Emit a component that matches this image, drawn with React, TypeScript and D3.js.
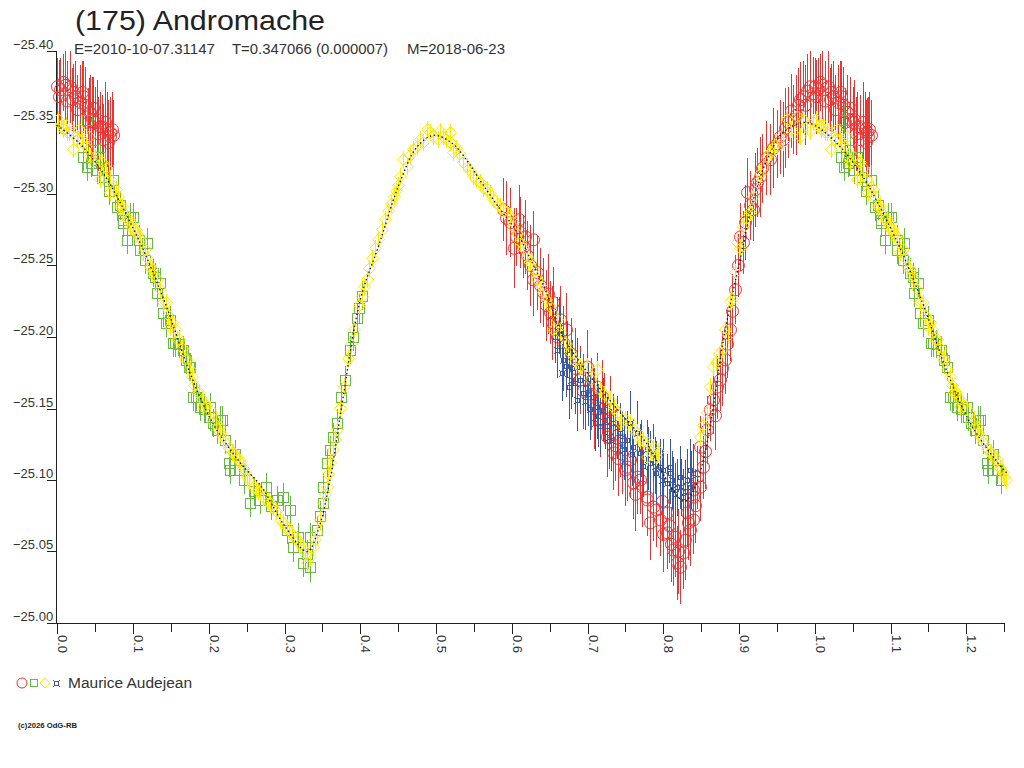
import React from 'react';
import * as d3 from 'd3';

// ---- data (phase, reduced magnitude, error) ----
const redPoints: [number, number, number][] = [
  [0.000, -25.375, 0.020], [0.004, -25.373, 0.022], [0.007, -25.378, 0.020], [0.010, -25.376, 0.024],
  [0.017, -25.375, 0.025], [0.020, -25.366, 0.022], [0.021, -25.371, 0.020], [0.026, -25.359, 0.024],
  [0.030, -25.364, 0.026], [0.033, -25.371, 0.022], [0.034, -25.368, 0.025], [0.042, -25.357, 0.024],
  [0.043, -25.357, 0.026], [0.047, -25.360, 0.022], [0.050, -25.350, 0.025], [0.052, -25.352, 0.028],
  [0.056, -25.347, 0.024], [0.059, -25.347, 0.022], [0.060, -25.338, 0.025], [0.066, -25.345, 0.026],
  [0.069, -25.343, 0.024], [0.070, -25.340, 0.028], [0.074, -25.341, 0.025],
  [0.002, -25.368, 0.026], [0.013, -25.365, 0.028], [0.024, -25.368, 0.025], [0.037, -25.362, 0.027],
  [0.040, -25.350, 0.024], [0.046, -25.352, 0.030], [0.054, -25.342, 0.026], [0.063, -25.350, 0.028],
  [0.067, -25.336, 0.030], [0.072, -25.345, 0.026],
  [0.588, -25.289, 0.022], [0.598, -25.280, 0.024], [0.606, -25.270, 0.020], [0.611, -25.273, 0.025],
  [0.615, -25.263, 0.022], [0.620, -25.257, 0.024], [0.628, -25.268, 0.020], [0.628, -25.240, 0.025],
  [0.633, -25.245, 0.026], [0.641, -25.231, 0.024], [0.645, -25.222, 0.025], [0.650, -25.217, 0.022],
  [0.655, -25.224, 0.025], [0.664, -25.212, 0.024], [0.668, -25.196, 0.026], [0.678, -25.188, 0.025],
  [0.690, -25.170, 0.024], [0.699, -25.179, 0.026], [0.705, -25.160, 0.025], [0.712, -25.165, 0.024],
  [0.716, -25.142, 0.026], [0.722, -25.150, 0.025], [0.730, -25.149, 0.024], [0.734, -25.119, 0.026],
  [0.736, -25.124, 0.025], [0.743, -25.128, 0.026], [0.750, -25.107, 0.025], [0.752, -25.109, 0.024],
  [0.756, -25.114, 0.026], [0.760, -25.098, 0.025], [0.765, -25.102, 0.026], [0.769, -25.100, 0.024],
  [0.778, -25.088, 0.026], [0.778, -25.086, 0.025], [0.787, -25.081, 0.024], [0.791, -25.079, 0.026],
  [0.796, -25.072, 0.025], [0.800, -25.062, 0.026], [0.805, -25.063, 0.025], [0.805, -25.077, 0.024],
  [0.810, -25.055, 0.026], [0.813, -25.051, 0.025], [0.818, -25.042, 0.026], [0.822, -25.039, 0.026],
  [0.826, -25.049, 0.025], [0.831, -25.077, 0.024], [0.835, -25.065, 0.025], [0.839, -25.072, 0.024],
  [0.839, -25.088, 0.022], [0.839, -25.093, 0.024], [0.844, -25.102, 0.022], [0.848, -25.095, 0.024],
  [0.848, -25.123, 0.022], [0.852, -25.109, 0.022], [0.858, -25.135, 0.024], [0.862, -25.149, 0.022],
  [0.866, -25.156, 0.024], [0.871, -25.165, 0.022], [0.875, -25.170, 0.022], [0.881, -25.184, 0.024],
  [0.888, -25.205, 0.022], [0.894, -25.233, 0.024], [0.898, -25.250, 0.022], [0.901, -25.270, 0.024],
  [0.905, -25.266, 0.022], [0.910, -25.301, 0.024], [0.918, -25.289, 0.022], [0.924, -25.308, 0.024],
  [0.930, -25.318, 0.024], [0.941, -25.324, 0.025], [0.950, -25.335, 0.024], [0.958, -25.338, 0.026],
  [0.965, -25.350, 0.025], [0.971, -25.352, 0.024], [0.978, -25.362, 0.026], [0.984, -25.368, 0.025],
  [0.990, -25.372, 0.026], [0.994, -25.375, 0.025],
  [0.592, -25.283, 0.026], [0.603, -25.262, 0.028], [0.609, -25.282, 0.024], [0.618, -25.270, 0.026],
  [0.624, -25.250, 0.028], [0.637, -25.236, 0.026], [0.648, -25.230, 0.028], [0.653, -25.210, 0.026],
  [0.660, -25.200, 0.028], [0.672, -25.205, 0.026], [0.684, -25.178, 0.028], [0.694, -25.162, 0.026],
  [0.708, -25.150, 0.028], [0.719, -25.158, 0.026], [0.726, -25.130, 0.028], [0.740, -25.115, 0.026],
  [0.746, -25.118, 0.028], [0.763, -25.090, 0.026], [0.772, -25.095, 0.028], [0.783, -25.070, 0.026],
  [0.798, -25.085, 0.028], [0.808, -25.068, 0.026], [0.815, -25.060, 0.028], [0.820, -25.050, 0.030],
  [0.828, -25.058, 0.028], [0.833, -25.070, 0.026], [0.842, -25.082, 0.026],
  [0.855, -25.120, 0.026], [0.868, -25.145, 0.024], [0.878, -25.178, 0.026], [0.884, -25.195, 0.024],
  [0.891, -25.218, 0.026], [0.908, -25.280, 0.026], [0.914, -25.292, 0.024], [0.921, -25.303, 0.026],
  [0.927, -25.312, 0.028], [0.935, -25.325, 0.026], [0.945, -25.332, 0.028], [0.954, -25.340, 0.026],
  [0.961, -25.346, 0.028], [0.968, -25.358, 0.026], [0.975, -25.355, 0.028], [0.981, -25.366, 0.026],
  [0.987, -25.362, 0.028], [0.997, -25.370, 0.026],
];

const greenPoints: [number, number][] = [
  [0.034, -25.326], [0.039, -25.352], [0.039, -25.319], [0.047, -25.331], [0.052, -25.317], [0.056, -25.326],
  [0.074, -25.310], [0.079, -25.291], [0.087, -25.282], [0.087, -25.280], [0.092, -25.268], [0.096, -25.284],
  [0.100, -25.284], [0.108, -25.268], [0.109, -25.261], [0.116, -25.254], [0.118, -25.266], [0.126, -25.245],
  [0.129, -25.242], [0.131, -25.231], [0.136, -25.238], [0.139, -25.217], [0.143, -25.210], [0.149, -25.212],
  [0.153, -25.196], [0.156, -25.196], [0.166, -25.191], [0.174, -25.179], [0.175, -25.179], [0.179, -25.158],
  [0.183, -25.158], [0.188, -25.151], [0.201, -25.151], [0.202, -25.144], [0.211, -25.135], [0.215, -25.142],
  [0.218, -25.142], [0.227, -25.112], [0.228, -25.107], [0.235, -25.118], [0.240, -25.107], [0.254, -25.084],
  [0.268, -25.086], [0.276, -25.095], [0.290, -25.086], [0.298, -25.088], [0.303, -25.065], [0.307, -25.079],
  [0.311, -25.053], [0.325, -25.042], [0.334, -25.039], [0.334, -25.060], [0.343, -25.065], [0.351, -25.084],
  [0.351, -25.095], [0.356, -25.112], [0.360, -25.121], [0.364, -25.130], [0.369, -25.140], [0.380, -25.170],
  [0.386, -25.191], [0.395, -25.213], [0.402, -25.229],
  [0.375, -25.158], [0.390, -25.200], [0.398, -25.220], [0.044, -25.322], [0.062, -25.312], [0.068, -25.302],
  [0.083, -25.292], [0.160, -25.195], [0.170, -25.184], [0.193, -25.150], [0.206, -25.140], [0.222, -25.128],
  [0.246, -25.100], [0.260, -25.092], [0.282, -25.082], [0.318, -25.060], [0.329, -25.048], [0.347, -25.075],
];

const yellowPoints: [number, number][] = [
  [0.001, -25.352], [0.005, -25.348], [0.008, -25.345], [0.013, -25.343], [0.016, -25.343], [0.021, -25.343],
  [0.021, -25.331], [0.026, -25.338], [0.029, -25.345], [0.033, -25.338], [0.034, -25.336], [0.042, -25.340],
  [0.043, -25.326], [0.047, -25.322], [0.050, -25.326], [0.056, -25.310], [0.059, -25.322], [0.060, -25.312],
  [0.069, -25.310], [0.070, -25.301], [0.074, -25.305], [0.077, -25.303], [0.083, -25.291], [0.086, -25.291],
  [0.087, -25.287], [0.092, -25.282], [0.095, -25.282], [0.096, -25.277], [0.100, -25.275], [0.103, -25.275],
  [0.108, -25.270], [0.109, -25.268], [0.113, -25.259], [0.116, -25.261], [0.122, -25.249], [0.125, -25.247],
  [0.131, -25.240], [0.135, -25.233], [0.139, -25.224], [0.143, -25.224], [0.149, -25.207], [0.152, -25.210],
  [0.158, -25.198], [0.161, -25.198], [0.169, -25.184], [0.171, -25.184], [0.175, -25.177], [0.178, -25.172],
  [0.184, -25.161], [0.187, -25.161], [0.191, -25.156], [0.192, -25.151], [0.201, -25.149], [0.206, -25.140],
  [0.214, -25.137], [0.215, -25.133], [0.222, -25.126], [0.231, -25.119], [0.232, -25.119], [0.240, -25.114],
  [0.241, -25.112], [0.248, -25.105], [0.250, -25.102], [0.253, -25.100], [0.258, -25.095], [0.265, -25.092],
  [0.272, -25.088], [0.278, -25.085], [0.285, -25.081], [0.294, -25.072], [0.303, -25.067], [0.310, -25.062],
  [0.316, -25.058], [0.324, -25.051], [0.330, -25.042], [0.334, -25.046], [0.338, -25.053], [0.343, -25.063],
  [0.347, -25.072], [0.351, -25.084], [0.356, -25.095], [0.360, -25.112], [0.364, -25.121], [0.369, -25.135],
  [0.392, -25.205], [0.405, -25.235], [0.412, -25.248], [0.420, -25.262], [0.428, -25.275], [0.436, -25.288],
  [0.444, -25.298], [0.450, -25.306], [0.457, -25.324], [0.462, -25.319], [0.470, -25.331], [0.475, -25.333],
  [0.483, -25.336], [0.488, -25.345], [0.496, -25.340], [0.502, -25.338], [0.509, -25.340], [0.518, -25.343],
  [0.518, -25.336], [0.522, -25.329], [0.530, -25.328], [0.541, -25.319], [0.549, -25.312], [0.558, -25.308],
  [0.567, -25.303], [0.575, -25.296], [0.585, -25.291], [0.593, -25.287], [0.598, -25.284], [0.602, -25.280],
  [0.602, -25.277], [0.611, -25.266], [0.620, -25.256], [0.628, -25.247], [0.633, -25.240], [0.641, -25.231],
  [0.650, -25.221], [0.655, -25.205], [0.660, -25.212], [0.664, -25.203], [0.677, -25.189], [0.690, -25.179],
  [0.699, -25.179], [0.712, -25.177], [0.716, -25.163], [0.730, -25.156], [0.739, -25.147], [0.743, -25.140],
  [0.756, -25.140], [0.765, -25.133], [0.769, -25.128], [0.778, -25.126], [0.778, -25.116], [0.786, -25.123],
  [0.793, -25.120], [0.848, -25.130], [0.858, -25.147], [0.861, -25.165], [0.866, -25.179], [0.870, -25.182],
  [0.877, -25.191], [0.885, -25.201], [0.891, -25.226], [0.897, -25.266], [0.905, -25.277], [0.914, -25.287],
  [0.924, -25.308], [0.932, -25.319], [0.941, -25.329], [0.950, -25.333], [0.958, -25.336], [0.963, -25.352],
  [0.976, -25.354], [0.980, -25.340], [0.990, -25.347], [0.998, -25.350],
  [0.373, -25.150], [0.378, -25.165], [0.384, -25.185], [0.388, -25.195], [0.398, -25.222], [0.402, -25.228],
  [0.409, -25.240], [0.416, -25.255], [0.424, -25.268], [0.432, -25.282], [0.440, -25.293], [0.447, -25.302],
  [0.453, -25.312], [0.466, -25.327], [0.479, -25.338], [0.492, -25.343], [0.505, -25.344], [0.513, -25.338],
  [0.526, -25.332], [0.535, -25.322], [0.545, -25.316], [0.553, -25.310], [0.562, -25.304], [0.571, -25.300],
  [0.580, -25.293], [0.589, -25.289], [0.607, -25.272], [0.615, -25.262], [0.624, -25.252], [0.637, -25.236],
  [0.645, -25.226], [0.671, -25.195], [0.684, -25.183], [0.705, -25.170], [0.722, -25.160], [0.735, -25.150],
  [0.750, -25.142], [0.760, -25.135], [0.773, -25.127], [0.782, -25.120], [0.790, -25.116], [0.852, -25.138],
  [0.873, -25.188], [0.881, -25.205], [0.888, -25.225], [0.894, -25.245], [0.901, -25.262], [0.909, -25.283],
  [0.918, -25.298], [0.928, -25.314], [0.937, -25.326], [0.946, -25.333], [0.955, -25.340], [0.968, -25.345],
  [0.985, -25.352], [0.993, -25.344], [0.011, -25.348], [0.038, -25.333], [0.064, -25.318], [0.080, -25.298],
  [0.105, -25.272], [0.119, -25.255], [0.128, -25.243], [0.146, -25.215], [0.155, -25.205], [0.165, -25.192],
  [0.181, -25.166], [0.196, -25.152], [0.210, -25.142], [0.219, -25.130], [0.227, -25.122], [0.236, -25.116],
  [0.245, -25.108], [0.262, -25.094], [0.268, -25.091], [0.281, -25.083], [0.289, -25.078], [0.298, -25.070],
  [0.306, -25.064], [0.320, -25.055], [0.327, -25.048], [0.340, -25.058], [0.353, -25.090], [0.358, -25.104],
  [0.366, -25.128],
];

const bluePoints: [number, number, number][] = [
  [0.657, -25.200, 0.018], [0.660, -25.191, 0.020], [0.664, -25.203, 0.018], [0.666, -25.175, 0.020],
  [0.668, -25.184, 0.022], [0.673, -25.191, 0.020], [0.676, -25.165, 0.022], [0.680, -25.178, 0.020],
  [0.686, -25.179, 0.020], [0.686, -25.156, 0.022], [0.690, -25.170, 0.020], [0.694, -25.161, 0.022],
  [0.699, -25.168, 0.020], [0.703, -25.150, 0.022], [0.707, -25.158, 0.020], [0.712, -25.151, 0.022],
  [0.716, -25.138, 0.020], [0.720, -25.149, 0.022], [0.723, -25.142, 0.020], [0.728, -25.130, 0.022],
  [0.734, -25.140, 0.020], [0.739, -25.137, 0.022], [0.743, -25.133, 0.020], [0.748, -25.122, 0.022],
  [0.752, -25.128, 0.020], [0.756, -25.140, 0.022], [0.760, -25.123, 0.020], [0.765, -25.133, 0.022],
  [0.769, -25.119, 0.020], [0.773, -25.110, 0.022], [0.778, -25.122, 0.020], [0.782, -25.112, 0.022],
  [0.786, -25.119, 0.020], [0.791, -25.105, 0.022], [0.796, -25.109, 0.020], [0.800, -25.107, 0.022],
  [0.805, -25.098, 0.020], [0.809, -25.105, 0.022], [0.809, -25.109, 0.020], [0.813, -25.094, 0.022],
  [0.818, -25.095, 0.020], [0.822, -25.102, 0.022], [0.826, -25.088, 0.020], [0.831, -25.100, 0.022],
  [0.835, -25.095, 0.020], [0.835, -25.107, 0.022], [0.839, -25.105, 0.020],
  [0.662, -25.208, 0.020], [0.671, -25.180, 0.022], [0.678, -25.170, 0.020], [0.683, -25.168, 0.022],
  [0.697, -25.155, 0.020], [0.701, -25.160, 0.022], [0.710, -25.140, 0.020], [0.714, -25.145, 0.022],
  [0.726, -25.138, 0.020], [0.731, -25.128, 0.022], [0.745, -25.128, 0.020], [0.758, -25.118, 0.022],
  [0.771, -25.122, 0.020], [0.780, -25.115, 0.022], [0.789, -25.110, 0.020], [0.798, -25.100, 0.022],
  [0.811, -25.100, 0.020], [0.816, -25.090, 0.022], [0.824, -25.095, 0.020], [0.829, -25.092, 0.022],
  [0.837, -25.100, 0.020],
];

const greenErr = 0.010;
const yellowErr = 0.006;

const fitCurve: [number, number][] = [
  [0.000, -25.348], [0.030, -25.335], [0.060, -25.315], [0.083, -25.294], [0.116, -25.258], [0.145, -25.220],
  [0.175, -25.175], [0.205, -25.140], [0.240, -25.113], [0.255, -25.104], [0.270, -25.095], [0.300, -25.068],
  [0.330, -25.050], [0.345, -25.066], [0.360, -25.100], [0.375, -25.150], [0.400, -25.226], [0.425, -25.265],
  [0.450, -25.305], [0.475, -25.333], [0.497, -25.341], [0.520, -25.336], [0.540, -25.324], [0.560, -25.308],
  [0.585, -25.289], [0.605, -25.275], [0.625, -25.254], [0.645, -25.232], [0.665, -25.203], [0.700, -25.175],
  [0.740, -25.149], [0.780, -25.124], [0.810, -25.095], [0.828, -25.085], [0.840, -25.093], [0.850, -25.108],
  [0.862, -25.138], [0.880, -25.200], [0.905, -25.263], [0.920, -25.298], [0.937, -25.324], [0.958, -25.343],
  [0.985, -25.350], [1.000, -25.348],
];

const xMajorTicks = [0, 0.1, 0.2, 0.3, 0.4, 0.5, 0.6, 0.7, 0.8, 0.9, 1.0, 1.1, 1.2];
const xMinorTicks = [0.05, 0.15, 0.25, 0.35, 0.45, 0.55, 0.65, 0.75, 0.85, 0.95, 1.05, 1.15, 1.25];
const yTicks = [-25.40, -25.35, -25.30, -25.25, -25.20, -25.15, -25.10, -25.05, -25.00];

const titleText = '(175) Andromache';
const infoE = 'E=2010-10-07.31147';
const infoT = 'T=0.347066 (0.000007)';
const infoM = 'M=2018-06-23';
const observer = 'Maurice Audejean';
const copyright = '(c)2026 OdG-RB';

const RED = '#ee3333';
const GREEN = '#66bb44';
const YELLOW = '#ffe800';
const BLUE = '#3b57a8';
const FONT = '"Liberation Sans", Arial, sans-serif';

const PHASE_MAX = 1.2535;

function withRepeat<T extends number[]>(pts: T[]): T[] {
  const out: T[] = [];
  pts.forEach((p) => {
    out.push(p);
    if (p[0] + 1 <= PHASE_MAX) {
      const q = [...p] as unknown as T;
      q[0] = p[0] + 1;
      out.push(q);
    }
  });
  return out;
}

export default function App() {
  const x = d3.scaleLinear().domain([0, 1.25]).range([57.3, 1004.2]);
  const y = d3.scaleLinear().domain([-25.4, -25.0]).range([51, 623]);
  const cx = (p: number) => Math.round(x(p)) + 0.5;
  const cy = (m: number) => y(m);

  const red = withRepeat(redPoints);
  const green = withRepeat(greenPoints);
  const yellow = withRepeat(yellowPoints);
  const blue = withRepeat(bluePoints);

  const fitAll: [number, number][] = [
    ...fitCurve,
    ...fitCurve.filter((d) => d[0] > 0 && d[0] + 1 <= 1.256).map((d) => [d[0] + 1, d[1]] as [number, number]),
  ];
  const fitPath = d3
    .line<[number, number]>()
    .x((d) => x(d[0]))
    .y((d) => y(d[1]))
    .curve(d3.curveCatmullRom)(fitAll) as string;

  const axisX = 56.5;
  const axisY = 623.5;

  const bluePath = (px: number, py: number) =>
    `M${px - 2},${py - 2}h4v4h-4z M${px - 2},${py - 2}l-1.5,-1.5 M${px + 2},${py - 2}l1.5,-1.5 M${px + 2},${py + 2}l1.5,1.5 M${px - 2},${py + 2}l-1.5,1.5`;

  return (
    <svg
      width={1024}
      height={768}
      style={{ position: 'absolute', left: 0, top: 0, background: '#fff' }}
      fontFamily={FONT}
    >
      <rect x={0} y={0} width={1024} height={768} fill="#fff" />
      {/* title */}
      <text x={75} y={30} fontSize={28} fill="#222" textLength={250} lengthAdjust="spacingAndGlyphs">
        {titleText}
      </text>
      <text x={74} y={54} fontSize={14} fill="#333" textLength={141} lengthAdjust="spacingAndGlyphs">
        {infoE}
      </text>
      <text x={232} y={54} fontSize={14} fill="#333" textLength={156} lengthAdjust="spacingAndGlyphs">
        {infoT}
      </text>
      <text x={407} y={54} fontSize={14} fill="#333" textLength={98} lengthAdjust="spacingAndGlyphs">
        {infoM}
      </text>

      {/* axes */}
      <g stroke="#222" strokeWidth={1} shapeRendering="crispEdges">
        <line x1={axisX} y1={51} x2={axisX} y2={axisY} />
        <line x1={46.5} y1={axisY} x2={1005} y2={axisY} />
        {yTicks.map((v) => (
          <line key={'yt' + v} x1={46.5} x2={axisX} y1={Math.round(y(v)) + 0.5} y2={Math.round(y(v)) + 0.5} />
        ))}
        {xMajorTicks.map((v) => (
          <line key={'xM' + v} x1={cx(v)} x2={cx(v)} y1={axisY} y2={axisY + 10} />
        ))}
        {xMinorTicks.map((v) => (
          <line key={'xm' + v} x1={cx(v)} x2={cx(v)} y1={axisY} y2={axisY + 8} />
        ))}
      </g>
      {yTicks.map((v) => (
        <text key={'yl' + v} x={13} y={Math.round(y(v)) - 2} fontSize={13} fill="#333">
          {d3.format('.2f')(v)}
        </text>
      ))}
      {xMajorTicks.map((v) => (
        <text
          key={'xl' + v}
          transform={`translate(${Math.round(x(v)) + 1},635) rotate(90)`}
          fontSize={13}
          fill="#333"
        >
          {d3.format('.1f')(v)}
        </text>
      ))}

      {/* red series */}
      <g stroke={RED} fill="none" strokeWidth={1}>
        {red.map((d, i) => (
          <line key={'re' + i} x1={cx(d[0])} x2={cx(d[0])} y1={cy(d[1] - d[2])} y2={cy(d[1] + d[2])} shapeRendering="crispEdges" />
        ))}
        {red.map((d, i) => (
          <circle key={'rc' + i} cx={cx(d[0])} cy={cy(d[1])} r={6} />
        ))}
      </g>

      {/* blue series */}
      <g stroke={BLUE} fill="none" strokeWidth={1}>
        {blue.map((d, i) => (
          <line key={'be' + i} x1={cx(d[0])} x2={cx(d[0])} y1={cy(d[1] - d[2])} y2={cy(d[1] + d[2])} shapeRendering="crispEdges" />
        ))}
        {blue.map((d, i) => (
          <path key={'bp' + i} d={bluePath(cx(d[0]), Math.round(cy(d[1])) + 0.5)} shapeRendering="crispEdges" />
        ))}
      </g>

      {/* green series */}
      <g stroke={GREEN} fill="none" strokeWidth={1}>
        {green.map((d, i) => (
          <line key={'ge' + i} x1={cx(d[0])} x2={cx(d[0])} y1={cy(d[1] - greenErr)} y2={cy(d[1] + greenErr)} shapeRendering="crispEdges" />
        ))}
        {green.map((d, i) => (
          <rect key={'gr' + i} x={cx(d[0]) - 5} y={Math.round(cy(d[1])) + 0.5 - 5} width={10} height={10} shapeRendering="crispEdges" />
        ))}
      </g>

      {/* yellow series */}
      <g stroke={YELLOW} fill="none" strokeWidth={1}>
        {yellow.map((d, i) => (
          <line key={'ye' + i} x1={cx(d[0])} x2={cx(d[0])} y1={cy(d[1] - yellowErr)} y2={cy(d[1] + yellowErr)} shapeRendering="crispEdges" />
        ))}
        {yellow.map((d, i) => {
          const px = cx(d[0]);
          const py = cy(d[1]);
          return <path key={'yd' + i} d={`M${px},${py - 6}L${px + 6},${py}L${px},${py + 6}L${px - 6},${py}Z`} />;
        })}
      </g>

      {/* fit */}
      <path d={fitPath} fill="none" stroke="#111" strokeWidth={1.3} strokeDasharray="1.5 2.5" />

      {/* legend */}
      <g fill="none" strokeWidth={1}>
        <circle cx={22} cy={683} r={5} stroke={RED} />
        <rect x={30.5} y={679.5} width={7} height={7} stroke={GREEN} shapeRendering="crispEdges" />
        <path d="M45,678L50,683L45,688L40,683Z" stroke={YELLOW} />
        <path d={bluePath(56.5, 683.5)} stroke={BLUE} shapeRendering="crispEdges" />
      </g>
      <text x={68} y={688} fontSize={14} fill="#333" textLength={124} lengthAdjust="spacingAndGlyphs">
        {observer}
      </text>
      <text x={18} y={728} fontSize={7} fill="#222" fontWeight="bold" textLength={59} lengthAdjust="spacingAndGlyphs">
        {copyright}
      </text>
    </svg>
  );
}
